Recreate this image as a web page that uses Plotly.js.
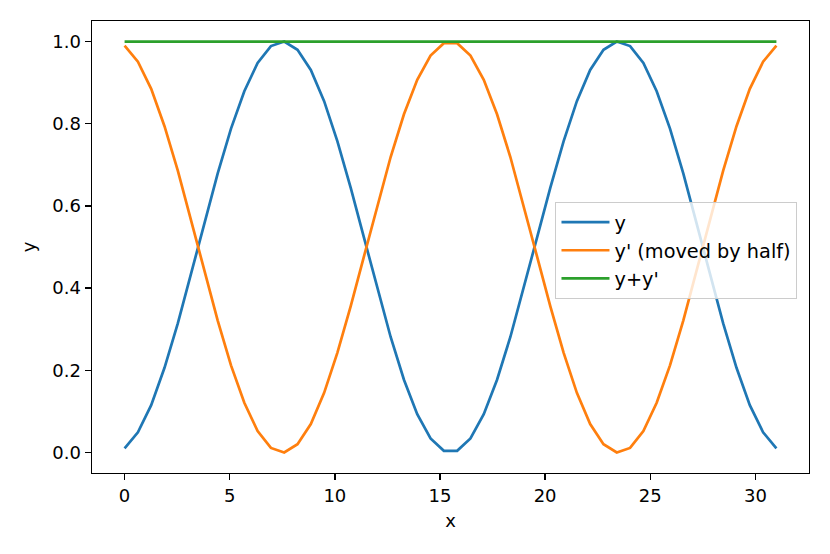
<!DOCTYPE html>
<html>
<head>
<meta charset="utf-8">
<script src="https://cdn.plot.ly/plotly-3.0.1.min.js"></script>
<style>html,body{margin:0;padding:0;background:#fff;}#chart{width:830px;height:554px;}</style>
</head>
<body>
<div id="chart"></div>
<script>
const xValues = [0, 0.633, 1.265, 1.898, 2.531, 3.163, 3.796, 4.429, 5.061, 5.694,
  6.327, 6.959, 7.592, 8.224, 8.857, 9.490, 10.122, 10.755, 11.388, 12.020,
  12.653, 13.286, 13.918, 14.551, 15.184, 15.816, 16.449, 17.082, 17.714, 18.347,
  18.980, 19.612, 20.245, 20.878, 21.510, 22.143, 22.776, 23.408, 24.041, 24.673,
  25.306, 25.939, 26.571, 27.204, 27.837, 28.469, 29.102, 29.735, 30.367, 31.000];

const yValues = [0.010, 0.049, 0.115, 0.206, 0.314, 0.434, 0.558, 0.679, 0.788, 0.879,
  0.948, 0.989, 1.000, 0.980, 0.931, 0.855, 0.757, 0.644, 0.522, 0.399,
  0.281, 0.177, 0.093, 0.034, 0.004, 0.004, 0.034, 0.093, 0.177, 0.281,
  0.399, 0.522, 0.644, 0.757, 0.855, 0.931, 0.980, 1.000, 0.989, 0.948,
  0.879, 0.788, 0.679, 0.558, 0.434, 0.314, 0.206, 0.115, 0.049, 0.010];

const yShiftedValues = [0.990, 0.951, 0.885, 0.794, 0.686, 0.566, 0.442, 0.321, 0.212, 0.121,
  0.052, 0.011, 0.000, 0.020, 0.069, 0.145, 0.243, 0.356, 0.478, 0.601,
  0.719, 0.823, 0.907, 0.966, 0.996, 0.996, 0.966, 0.907, 0.823, 0.719,
  0.601, 0.478, 0.356, 0.243, 0.145, 0.069, 0.020, 0.000, 0.011, 0.052,
  0.121, 0.212, 0.321, 0.442, 0.566, 0.686, 0.794, 0.885, 0.951, 0.990];

const ySumValues = [1, 1, 1, 1, 1, 1, 1, 1, 1, 1,
  1, 1, 1, 1, 1, 1, 1, 1, 1, 1,
  1, 1, 1, 1, 1, 1, 1, 1, 1, 1,
  1, 1, 1, 1, 1, 1, 1, 1, 1, 1,
  1, 1, 1, 1, 1, 1, 1, 1, 1, 1];

const seriesNames = ["y", "y' (moved by half)", "y+y'"];
const seriesColors = ["#1f77b4", "#ff7f0e", "#2ca02c"];
const xTicks = [0, 5, 10, 15, 20, 25, 30];
const yTicks = [0.0, 0.2, 0.4, 0.6, 0.8, 1.0];

const seriesData = [yValues, yShiftedValues, ySumValues];
const traces = seriesData.map((ys, k) => ({
  x: xValues, y: ys, type: 'scatter', mode: 'lines', name: seriesNames[k],
  line: {color: seriesColors[k], width: 2.7}
}));

const font = {family: 'DejaVu Sans, sans-serif', size: 18, color: '#000'};
const legendFont = {family: 'DejaVu Sans, sans-serif', size: 19.3, color: '#000'};
const axisCommon = {
  showline: true, mirror: true, linecolor: '#000', linewidth: 1.4,
  ticks: 'outside', ticklen: 6, tickwidth: 1.4, tickcolor: '#000',
  showgrid: false, zeroline: false, tickfont: font, automargin: false
};

const layout = {
  width: 830, height: 554,
  margin: {l: 92, r: 21, t: 21, b: 81},
  paper_bgcolor: '#fff', plot_bgcolor: '#fff',
  font: font,
  showlegend: true,
  legend: {
    x: 0.646, y: 0.600, xanchor: 'left', yanchor: 'top',
    bgcolor: 'rgba(255,255,255,0.8)', bordercolor: '#cccccc', borderwidth: 1.3,
    font: legendFont, itemwidth: 48
  },
  xaxis: Object.assign({}, axisCommon, {
    range: [-1.55, 32.55], tickvals: xTicks, ticktext: xTicks.map(String),
    title: {text: 'x', font: font, standoff: 9}
  }),
  yaxis: Object.assign({}, axisCommon, {
    range: [-0.05, 1.05], tickvals: yTicks, ticktext: yTicks.map(v => v.toFixed(1)),
    title: {text: 'y', font: font, standoff: 12}
  })
};

Plotly.newPlot('chart', traces, layout, {staticPlot: true, displayModeBar: false});
</script>
</body>
</html>
